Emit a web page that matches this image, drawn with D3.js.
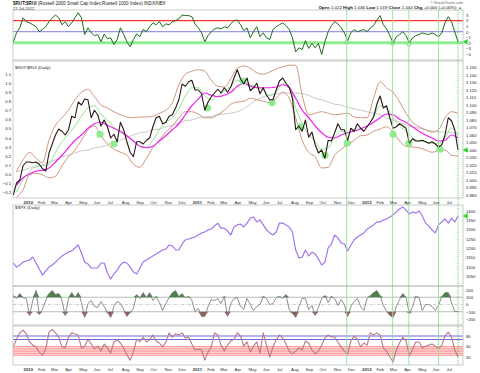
<!DOCTYPE html>
<html>
<head>
<meta charset="utf-8">
<script src="https://cdn.jsdelivr.net/npm/d3@7"></script>
<style>
  body { margin: 0; background: #fff; }
  svg { display: block; }
  text { font-family: "Liberation Sans", Arial, sans-serif; }
</style>
</head>
<body>
<svg id="chart"></svg>
<script>
// weekly closes, Fridays from 11-Dec-2009 to 27-Jul-2012
const ratioClose = [0.980,0.996,1.000,1.019,1.024,1.024,1.023,1.024,1.021,1.015,
  1.012,1.036,1.048,1.060,1.068,1.065,1.060,1.067,1.085,1.083,
  1.104,1.100,1.108,1.107,1.083,1.093,1.087,1.072,1.080,1.071,
  1.056,1.061,1.051,1.077,1.067,1.051,1.037,1.031,1.051,1.051,
  1.048,1.053,1.056,1.071,1.083,1.085,1.075,1.077,1.085,1.087,
  1.096,1.107,1.128,1.125,1.131,1.133,1.120,1.120,1.115,1.093,
  1.104,1.111,1.116,1.121,1.116,1.123,1.117,1.124,1.136,1.147,
  1.135,1.128,1.136,1.119,1.123,1.129,1.115,1.123,1.113,1.107,
  1.107,1.120,1.132,1.136,1.129,1.124,1.109,1.067,1.072,1.065,
  1.080,1.057,1.064,1.047,1.036,1.040,1.029,1.053,1.052,1.063,
  1.075,1.067,1.067,1.053,1.069,1.065,1.075,1.069,1.065,1.071,
  1.077,1.084,1.101,1.112,1.096,1.099,1.083,1.069,1.071,1.075,
  1.072,1.069,1.049,1.055,1.052,1.052,1.053,1.051,1.049,1.051,
  1.048,1.044,1.047,1.060,1.083,1.079,1.067,1.040];

// every second week (weeks 1,3,...,137)
const ma20 = [0.984,1.000,1.011,1.019,1.019,1.021,1.037,1.051,1.061,1.072,
  1.085,1.096,1.099,1.088,1.080,1.071,1.063,1.059,1.052,1.045,
  1.044,1.053,1.067,1.077,1.083,1.095,1.112,1.123,1.123,1.112,
  1.107,1.112,1.119,1.125,1.133,1.132,1.127,1.124,1.120,1.113,
  1.117,1.128,1.124,1.096,1.075,1.061,1.051,1.041,1.043,1.057,
  1.065,1.063,1.067,1.069,1.072,1.085,1.099,1.096,1.083,1.072,
  1.065,1.056,1.052,1.051,1.049,1.049,1.056,1.069,1.060];
const ma50 = [0.993,1.003,1.008,1.012,1.013,1.016,1.024,1.033,1.043,1.053,
  1.060,1.069,1.075,1.077,1.073,1.069,1.065,1.059,1.052,1.045,
  1.043,1.045,1.052,1.059,1.067,1.075,1.087,1.099,1.108,1.116,
  1.113,1.111,1.113,1.117,1.125,1.129,1.125,1.123,1.123,1.123,
  1.124,1.127,1.123,1.109,1.093,1.083,1.072,1.063,1.057,1.056,
  1.060,1.063,1.065,1.068,1.072,1.077,1.083,1.088,1.087,1.081,
  1.077,1.071,1.065,1.060,1.056,1.052,1.053,1.060,1.056];
const ma200 = [1.011,1.013,1.016,1.017,1.020,1.024,1.027,1.031,1.033,1.036,
  1.039,1.040,1.043,1.044,1.047,1.051,1.053,1.057,1.060,1.063,
  1.064,1.067,1.068,1.071,1.073,1.076,1.079,1.080,1.083,1.084,
  1.085,1.087,1.088,1.089,1.091,1.095,1.101,1.107,1.111,1.113,
  1.115,1.116,1.116,1.116,1.115,1.113,1.109,1.107,1.104,1.101,
  1.100,1.097,1.095,1.093,1.091,1.089,1.087,1.083,1.080,1.077,
  1.073,1.071,1.069,1.067,1.065,1.064,1.064,1.063,1.061];
const bbUpper = [1.011,1.027,1.037,1.029,1.023,1.053,1.073,1.083,1.093,1.107,
  1.117,1.121,1.111,1.100,1.096,1.091,1.087,1.084,1.083,1.084,
  1.084,1.085,1.089,1.093,1.103,1.127,1.141,1.145,1.147,1.145,
  1.133,1.125,1.124,1.135,1.149,1.152,1.149,1.143,1.141,1.144,
  1.148,1.151,1.153,1.153,1.113,1.087,1.089,1.091,1.089,1.087,
  1.088,1.089,1.084,1.083,1.083,1.109,1.131,1.123,1.117,1.104,
  1.089,1.077,1.071,1.067,1.064,1.067,1.083,1.091,1.089];
const bbLower = [0.977,0.987,1.007,1.009,1.007,1.003,1.005,1.019,1.031,1.040,
  1.053,1.067,1.072,1.059,1.048,1.041,1.037,1.033,1.021,1.017,
  1.029,1.043,1.053,1.064,1.072,1.083,1.091,1.091,1.088,1.083,
  1.083,1.087,1.093,1.101,1.104,1.105,1.109,1.107,1.105,1.103,
  1.109,1.117,1.109,1.083,1.053,1.037,1.031,1.016,1.017,1.033,
  1.041,1.047,1.053,1.059,1.060,1.065,1.068,1.071,1.064,1.052,
  1.045,1.044,1.043,1.040,1.037,1.039,1.040,1.033,1.032];

const zScore = [-1.8,-0.2,0.7,2.5,1.8,1.6,1.25,0.9,0,0.4,
  0.9,1.8,2.5,3.0,2.5,1.25,1.8,0.9,1.6,2.5,
  3.4,2.5,-0.5,0.7,-0.2,-0.7,-0.5,-1.8,-0.4,-1.25,
  -1.1,-2.3,-1.4,0.7,-0.5,-1.8,-2.7,-1.4,-0.4,-0.9,
  0.4,0,0.9,1.6,1.25,1.8,0.9,1.4,1.25,1.8,
  2.0,2.3,3.0,2.9,2.9,2.7,1.4,0.7,-0.2,-1.8,
  -0.7,0,0.5,0.7,0.5,0.9,0.7,1.4,2.0,2.1,
  1.25,0.2,0.7,-1.1,0,0.9,-0.9,-0.2,-1.1,-1.4,
  0.4,0.9,1.25,1.6,1.1,0.4,-1.1,-3.6,-2.9,-3.2,
  -1.6,-3.0,-2.1,-2.9,-2.1,-4.1,-1.8,0,1.1,1.8,
  1.4,0.7,-0.2,-1.6,-0.2,0.4,0,0.2,0.4,0,
  0.7,1.1,2.1,2.9,1.25,0.5,-0.7,-2.0,-0.9,-0.5,
  0,-0.7,-2.0,-1.1,-0.7,-0.5,-0.2,-0.4,-0.5,-0.2,
  -0.5,-0.9,-0.2,1.6,2.7,1.8,0,-1.8];

const spx = [1120,1098,1109,1125,1131,1136,1152,1120,1088,1055,
  1077,1098,1109,1125,1142,1158,1168,1179,1185,1201,
  1217,1174,1125,1115,1093,1093,1093,1120,1120,1066,
  1034,1061,1082,1109,1125,1120,1098,1072,1061,1093,
  1125,1136,1147,1158,1168,1179,1190,1195,1217,1212,
  1190,1190,1222,1244,1249,1255,1260,1271,1282,1287,
  1298,1303,1319,1335,1308,1308,1292,1271,1314,1325,
  1330,1314,1335,1362,1368,1341,1352,1325,1298,1282,
  1271,1287,1335,1335,1325,1314,1287,1190,1147,1152,
  1190,1158,1179,1168,1142,1109,1125,1201,1222,1271,
  1255,1228,1222,1185,1217,1244,1260,1271,1282,1303,
  1314,1325,1341,1341,1352,1357,1368,1378,1395,1411,
  1422,1405,1384,1395,1389,1400,1373,1335,1319,1298,
  1282,1325,1341,1357,1335,1362,1341,1373];

const cci = [123,82,151,96,82,-151,55,192,-137,-68,
  55,151,192,137,151,55,-151,82,164,96,
  164,27,-178,14,55,-27,-41,41,-27,-110,
  -178,-27,41,14,-68,-164,-110,-55,137,82,
  164,96,164,55,110,27,-82,14,96,164,
  192,110,151,96,110,55,-96,-55,-164,-164,
  -27,68,55,82,14,110,-164,14,82,96,
  -27,-68,82,0,-82,-27,0,110,82,0,
  14,96,110,82,137,-68,-123,-178,-27,82,
  82,-68,-14,-151,-41,82,123,27,110,82,
  -14,68,0,-164,-27,41,82,-27,-82,82,
  123,164,192,123,-14,-96,-151,-178,-27,68,
  151,96,-123,-27,110,96,-82,0,0,-27,
  -82,-14,110,164,164,27,-96,-96];

const stoch = [49,71,89,97,86,63,54,49,34,26,
  43,91,99,89,77,49,46,77,89,86,
  83,46,51,71,57,43,51,37,57,46,
  31,63,69,60,46,26,11,34,71,63,
  77,63,69,83,66,60,49,63,89,77,
  86,83,89,74,77,57,40,43,40,11,
  34,49,89,83,54,37,54,66,71,89,
  80,51,63,34,51,63,31,89,54,20,
  49,69,83,74,57,37,29,37,46,40,
  66,60,40,29,37,54,74,83,77,77,
  63,49,37,29,66,80,71,49,60,54,
  89,83,89,83,46,37,20,6,40,60,
  77,66,23,43,63,63,46,51,54,57,
  51,43,54,80,91,77,40,20];

const signalDates = ["2011-11-30", "2012-03-08", "2012-04-12", "2012-06-15"];
const lastDate = "2012-07-27";
const signalZ = [-1.8, -2.1, -2.3];
const markerDates = ["2010-06-16","2010-07-16","2011-02-03","2011-04-20","2011-06-22","2011-08-22",
  "2011-10-14","2011-12-01","2012-03-09","2012-04-12","2012-06-18"];
const markerValues = [1.061,1.048,1.096,1.132,1.103,1.071,1.033,1.049,1.061,1.049,1.041];

const zTicks = [3, 2, 1, 0, -1, -2, -3, -4];
const ratioTicks = [1.15,1.14,1.13,1.12,1.11,1.10,1.09,1.08,1.07,1.06,1.05,1.04,1.03,1.02,1.01,1.00,0.99,0.98];
const pctTicks = [1.1,1.0,0.9,0.8,0.7,0.6,0.5,0.4,0.3,0.2,0.1,0.0,-0.1,-0.2];
const spxTicks = [1400,1350,1300,1250,1200,1150,1100,1050];
const cciTicks = [200,100,0,-100,-200];
const stochTicks = [80,50,20];

const width = 480, height = 373;
const left = 13, right = 463;
const panels = {
  top:   { y0: 10,  y1: 60 },
  main:  { y0: 61,  y1: 198 },
  spx:   { y0: 205, y1: 286 },
  cci:   { y0: 286, y1: 325 },
  stoch: { y0: 326, y1: 365 }
};

const parse = d3.timeParse("%Y-%m-%d");
const weeks = d3.timeFriday.range(new Date(2009, 11, 11), new Date(2012, 6, 28));
const biWeeks = weeks.filter((d, i) => i % 2 === 1);

const svg = d3.select("#chart").attr("width", width).attr("height", height);
svg.append("rect").attr("width", width).attr("height", height).attr("fill", "#fff");

const x = d3.scaleTime().domain([weeks[0], weeks[weeks.length - 1]]).range([13.3, 458]);
const yZ = d3.scaleLinear().domain([-4, 3]).range([54, 15]);
const yRatio = d3.scaleLinear().domain([0.98, 1.15]).range([195, 67.5]);
const yPct = d3.scaleLinear().domain([-0.2, 1.1]).range([192.2, 74]);
const ySpx = d3.scaleLinear().domain([1050, 1400]).range([276, 211]);
const yCci = d3.scaleLinear().domain([-200, 200]).range([319, 290]);
const yStoch = d3.scaleLinear().domain([0, 100]).range([364, 329]);

// clip paths
const defs = svg.append("defs");
Object.entries(panels).forEach(([k, p]) => {
  defs.append("clipPath").attr("id", "clip-" + k)
    .append("rect").attr("x", left).attr("y", p.y0).attr("width", right - left).attr("height", p.y1 - p.y0);
});
const layer = k => svg.append("g").attr("clip-path", `url(#clip-${k})`);

function hline(g, y, v, color, w, dash) {
  g.append("line").attr("x1", left).attr("x2", right)
    .attr("y1", y(v)).attr("y2", y(v))
    .attr("stroke", color).attr("stroke-width", w)
    .attr("stroke-dasharray", dash || null);
}
function series(g, dates, vals, y, color, w, curve) {
  const line = d3.line().x((d, i) => x(dates[i])).y(d => y(d)).curve(curve || d3.curveLinear);
  g.append("path").datum(vals).attr("d", line)
    .attr("fill", "none").attr("stroke", color).attr("stroke-width", w)
    .attr("stroke-linejoin", "round");
}
function rightAxis(y, ticks, fmt) {
  const g = svg.append("g").attr("transform", `translate(${right},0)`)
    .call(d3.axisRight(y).tickValues(ticks).tickSize(0).tickPadding(3).tickFormat(fmt));
  g.select(".domain").remove();
  g.selectAll("text").attr("font-size", 4.2).attr("fill", "#222");
  return g;
}

// ---- top panel: z-score
const gTop = layer("top");
hline(gTop, yZ, 2, "#ff3030", 1.2);
hline(gTop, yZ, 0, "#8080dd", 1);
hline(gTop, yZ, -2, "#90ee90", 3);
series(gTop, weeks, zScore, yZ, "#1f6a1f", 1);
gTop.selectAll("circle.sig").data(signalZ).enter().append("circle")
  .attr("cx", (d, i) => x(parse(signalDates[i]))).attr("cy", d => yZ(d)).attr("r", 2)
  .attr("fill", "none").attr("stroke", "#7ad67a").attr("stroke-width", 0.8);
rightAxis(yZ, zTicks, d3.format("d"));

// ---- main panel: ratio with bands
const gMain = layer("main");
series(gMain, biWeeks, ma200, yRatio, "#c8c8c8", 1, d3.curveMonotoneX);
series(gMain, biWeeks, bbUpper, yRatio, "#c98a6e", 0.9, d3.curveMonotoneX);
series(gMain, biWeeks, bbLower, yRatio, "#c98a6e", 0.9, d3.curveMonotoneX);
series(gMain, biWeeks, ma20, yRatio, "#88e088", 0.9, d3.curveMonotoneX);
series(gMain, biWeeks, ma50, yRatio, "#ee22ee", 1.2, d3.curveMonotoneX);
gMain.selectAll("circle.mk").data(markerValues).enter().append("circle")
  .attr("cx", (d, i) => x(parse(markerDates[i]))).attr("cy", d => yRatio(d)).attr("r", 3.6)
  .attr("fill", "#7fea7f").attr("opacity", 0.85);
series(gMain, weeks, ratioClose, yRatio, "#2a1616", 1.1);
rightAxis(yRatio, ratioTicks, d3.format(".3f"));
const gLeft = svg.append("g").attr("transform", `translate(${left},0)`)
  .call(d3.axisLeft(yPct).tickValues(pctTicks).tickSize(0).tickPadding(2).tickFormat(d3.format(".1f")));
gLeft.select(".domain").remove();
gLeft.selectAll("text").attr("font-size", 4.2).attr("fill", "#222");

// ---- SPX panel
const gSpx = layer("spx");
series(gSpx, weeks, spx, ySpx, "#a374ee", 1.2);
rightAxis(ySpx, spxTicks, d3.format("d"));

// ---- CCI panel
const gCci = layer("cci");
hline(gCci, yCci, 100, "#aaa", 0.8);
hline(gCci, yCci, -100, "#aaa", 0.8);
hline(gCci, yCci, 0, "#bbb", 0.7, "3,1.5,1,1.5");
gCci.append("path").datum(cci)
  .attr("d", d3.area().x((d, i) => x(weeks[i])).y0(yCci(100)).y1(d => yCci(Math.max(d, 100))))
  .attr("fill", "#4a804a");
gCci.append("path").datum(cci)
  .attr("d", d3.area().x((d, i) => x(weeks[i])).y0(yCci(-100)).y1(d => yCci(Math.min(d, -100))))
  .attr("fill", "#935a5a");
series(gCci, weeks, cci, yCci, "#808080", 0.9);
rightAxis(yCci, cciTicks, d3.format("d"));

// ---- stochastic panel
const gSt = layer("stoch");
gSt.append("rect").attr("x", left).attr("width", right - left)
  .attr("y", yStoch(50)).attr("height", yStoch(22) - yStoch(50)).attr("fill", "#ffe6e6");
[50, 45, 40, 35, 30, 25].forEach(v => hline(gSt, yStoch, v, "#ff8484", 0.8));
hline(gSt, yStoch, 80, "#6a6ad8", 1);
hline(gSt, yStoch, 70, "#6a6ad8", 1);
series(gSt, weeks, stoch, yStoch, "#b87884", 1.1);
rightAxis(yStoch, stochTicks, d3.format("d"));

// ---- vertical signal lines
svg.append("g").selectAll("line").data(signalDates).enter().append("line")
  .attr("x1", d => x(parse(d))).attr("x2", d => x(parse(d)))
  .attr("y1", panels.top.y0).attr("y2", panels.stoch.y1)
  .attr("stroke", "#8fe48f").attr("stroke-width", 0.9);
svg.append("line")
  .attr("x1", x(parse(lastDate))).attr("x2", x(parse(lastDate)))
  .attr("y1", panels.top.y0).attr("y2", panels.stoch.y1)
  .attr("stroke", "#33cc33").attr("stroke-width", 0.9).attr("stroke-dasharray", "1,1.2");

// ---- panel frames
Object.values(panels).forEach(p => {
  svg.append("rect").attr("x", left).attr("y", p.y0).attr("width", right - left).attr("height", p.y1 - p.y0)
    .attr("fill", "none").attr("stroke", "#a8a8a8").attr("stroke-width", 0.6);
});

// ---- last value arrows
const arrow = d3.symbol().type(d3.symbolTriangle).size(14);
[[yZ(zScore[zScore.length - 1])], [yRatio(ratioClose[ratioClose.length - 1])], [ySpx(spx[spx.length - 1])]]
  .forEach(([yy]) => {
    svg.append("path").attr("d", arrow()).attr("fill", "#22dd22")
      .attr("transform", `translate(${right + 3},${yy}) rotate(-90)`);
  });

// ---- month axes
const months = d3.timeMonth.range(new Date(2010, 0, 1), new Date(2012, 7, 1));
const monthFmt = d => d.getMonth() === 0 ? d3.timeFormat("%Y")(d) : d3.timeFormat("%b")(d);
function monthAxis(yPos) {
  const g = svg.append("g").attr("transform", `translate(0,${yPos})`)
    .call(d3.axisBottom(x).tickValues(months).tickSize(0).tickPadding(0).tickFormat(monthFmt));
  g.select(".domain").remove();
  g.selectAll("text").attr("y", 0).attr("dy", "0.35em").attr("text-anchor", "start")
    .attr("font-size", 4.3).attr("fill", "#333")
    .attr("font-weight", d => d.getMonth() === 0 ? "bold" : null);
}
monthAxis(202);
monthAxis(369);

// ---- titles
const t1 = svg.append("text").attr("x", 13).attr("y", 5).attr("font-size", 4.6).attr("fill", "#222");
t1.append("tspan").attr("font-weight", "bold").text("$RUT:$RUI");
t1.append("tspan").text(" (Russell 2000 Small Cap Index:Russell 1000 Index)  INDX/NBX");
svg.append("text").attr("x", 13).attr("y", 9.6).attr("font-size", 4).attr("fill", "#333").text("27-Jul-2012");
svg.append("text").attr("x", right).attr("y", 4).attr("text-anchor", "end")
  .attr("font-size", 3.8).attr("fill", "#666").text("© StockCharts.com");
const t2 = svg.append("text").attr("x", right - 1).attr("y", 9.4).attr("text-anchor", "end")
  .attr("font-size", 4.4).attr("fill", "#111");
[["Open", "1.022"], ["High", "1.046"], ["Low", "1.019"], ["Close", "1.044"], ["Chg", "+0.000 (+0.00%)"]]
  .forEach(([k, v], i) => {
    t2.append("tspan").attr("font-weight", "bold").text((i ? "  " : "") + k + " ");
    t2.append("tspan").text(v);
  });
t2.append("tspan").attr("fill", "#22bb22").text(" \u25B2");
svg.append("text").attr("x", 15).attr("y", 68.5).attr("font-size", 4.3).attr("fill", "#222").text("$RUT:$RUI (Daily)");
svg.append("text").attr("x", 15).attr("y", 209).attr("font-size", 4.3).attr("fill", "#222").text("$SPX (Daily)");
</script>
</body>
</html>
